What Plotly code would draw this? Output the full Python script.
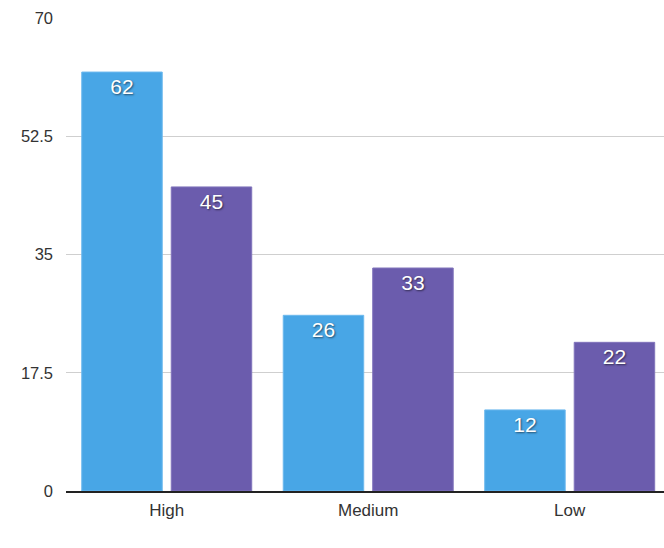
import plotly.graph_objects as go

categories = ["High", "Medium", "Low"]
series_a = [62, 26, 12]
series_b = [45, 33, 22]
tick_vals = [0, 17.5, 35, 52.5, 70]
tick_text = ["0", "17.5", "35", "52.5", "70"]

label_font = dict(family="Liberation Sans, Arial, sans-serif", size=21, color="white",
                  shadow="1px 1px 2px rgba(0,0,0,0.55)")

fig = go.Figure()
fig.add_trace(go.Bar(
    x=categories, y=series_a, name="A",
    marker=dict(color="#48A6E6", line=dict(color="#6DB9EE", width=1)),
    text=series_a, textposition="inside", insidetextanchor="end",
    textfont=label_font, textangle=0,
))
fig.add_trace(go.Bar(
    x=categories, y=series_b, name="B",
    marker=dict(color="#6B5CAD", line=dict(color="#8174BB", width=1)),
    text=series_b, textposition="inside", insidetextanchor="end",
    textfont=label_font, textangle=0,
))

fig.update_layout(
    width=664, height=548,
    margin=dict(l=66, r=0, t=18, b=57),
    paper_bgcolor="white", plot_bgcolor="white",
    barmode="group", bargap=0.1117, bargroupgap=0.1006,
    showlegend=False,
    font=dict(family="Liberation Sans, Arial, sans-serif", size=16, color="#333333"),
    uniformtext=dict(mode=False),
)
fig.update_yaxes(
    range=[0, 70], tickvals=tick_vals, ticktext=tick_text,
    showgrid=True, gridcolor="#CFCFCF", gridwidth=1,
    zeroline=False, showline=False, ticks="", ticklabelstandoff=12,
    tickfont=dict(size=16.5),
)
fig.update_xaxes(
    range=[-0.5, 2.468],
    showline=True, linecolor="#222222", linewidth=1.5,
    ticks="", showgrid=False, ticklabelstandoff=3,
    tickfont=dict(size=17),
)

fig.write_html("out.html")
